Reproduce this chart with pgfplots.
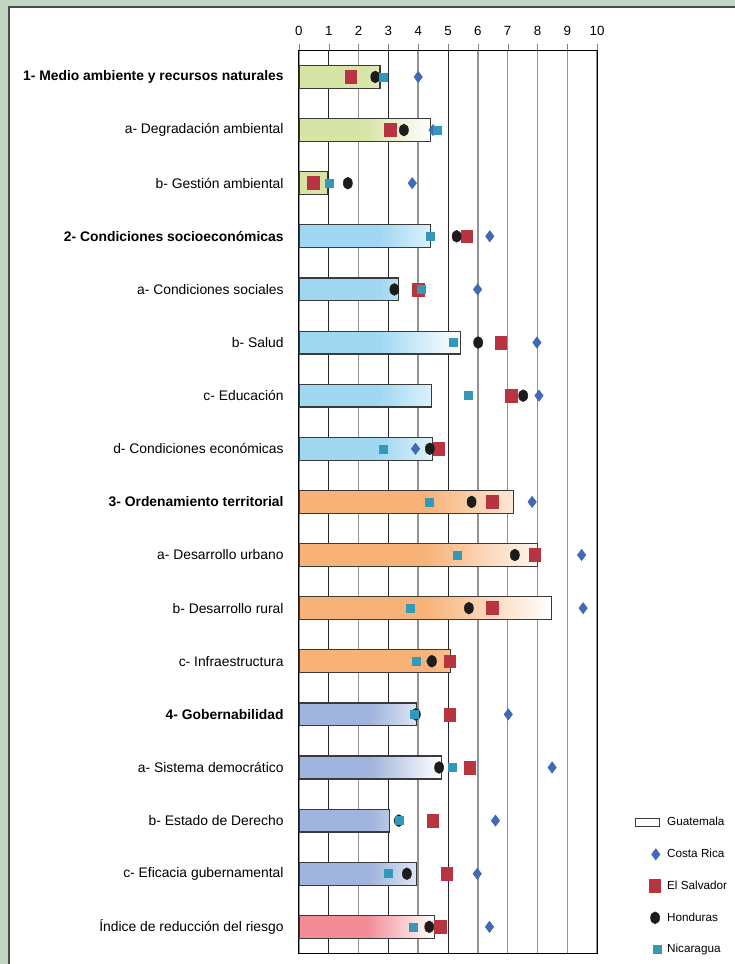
\documentclass[border=0pt]{standalone}
\usepackage{fontspec}
\setmainfont{Liberation Sans}
\usepackage{pgfplots}
\usepackage{pgfplotstable}
\pgfplotsset{compat=1.18}

\definecolor{bgsage}{HTML}{C2D5C0}
\definecolor{frameline}{HTML}{4A4A4A}
\definecolor{bargreen}{HTML}{D6E4A6}
\definecolor{barblue}{HTML}{A0D8F2}
\definecolor{barorange}{HTML}{F7B278}
\definecolor{barlav}{HTML}{A0B4DE}
\definecolor{barpink}{HTML}{F28C96}
\definecolor{bardraw}{HTML}{3A3A3A}
\definecolor{crblue}{HTML}{4169B5}
\definecolor{esred}{HTML}{B83440}
\definecolor{honblack}{HTML}{1C1C1C}
\definecolor{nicteal}{HTML}{3399B8}

% row: 1..17 de arriba abajo
\pgfplotstableread{
row gua  cr   es   hon  nic
1   2.72 4.00 1.75 2.56 2.84
2   4.41 4.50 3.06 3.52 4.63
3   0.96 3.80 0.48 1.64 1.01
4   4.41 6.40 5.64 5.29 4.42
5   3.33 5.99 4.00 3.20 4.09
6   5.41 7.98 6.78 6.01 5.19
7   4.44 8.05 7.12 7.52 5.67
8   4.47 3.91 4.70 4.39 2.82
9   7.19 7.82 6.48 5.79 4.36
10  8.00 9.48 7.92 7.24 5.30
11  8.47 9.53 6.48 5.70 3.75
12  5.07 4.41 5.07 4.46 3.92
13  3.93 7.02 5.07 3.92 3.86
14  4.77 8.49 5.74 4.70 5.15
15  3.05 6.59 4.50 3.35 3.35
16  3.93 5.98 4.97 3.62 3.01
17  4.54 6.39 4.74 4.37 3.85
}\riesgo

\pgfplotsset{
  guabar/.style={xbar, bar shift=0pt, bar width=0.43, draw=bardraw,
    line width=0.9pt, left color=#1, right color=white, middle color=#1},
  % legend images drawn at pgf level so the bar shading is not inherited
  barleg/.style={legend image code/.code={%
    \pgfpathrectangle{\pgfpoint{0pt}{-5pt}}{\pgfpoint{22pt}{10pt}}%
    \pgfusepath{use as bounding box}%
    \pgfsetlinewidth{0.7pt}\pgfsetstrokecolor{bardraw}\pgfsetfillcolor{white}%
    \pgfpathrectangle{\pgfpoint{0pt}{-3pt}}{\pgfpoint{18pt}{6pt}}%
    \pgfusepath{fill,stroke}}},
  markleg/.style={legend image code/.code={%
    \pgfpathrectangle{\pgfpoint{0pt}{-5pt}}{\pgfpoint{22pt}{10pt}}%
    \pgfusepath{use as bounding box}%
    \draw[##1] plot coordinates {(#1,0pt)};}},
}

\begin{document}
\begin{tikzpicture}
\useasboundingbox (-224.25pt,-7.95pt) rectangle (327pt,715.2pt);
\fill[bgsage] (-224.25pt,-9pt) rectangle (329pt,715.2pt);
\fill[white] (-217.5pt,-9pt) rectangle (329pt,710pt);
\draw[frameline, line width=1pt] (-217.5pt,-9pt) -- (-217.5pt,710pt) -- (329pt,710pt);
\begin{axis}[
  at={(0pt,0pt)}, anchor=south west,
  scale only axis, width=223.7pt, height=677.4pt,
  xmin=0, xmax=10, ymin=0.5, ymax=17.5,
  y dir=reverse,
  enlargelimits=false,
  axis line style={black, line width=0.8pt},
  tick align=outside,
  major tick length=4.5pt, minor tick length=3pt,
  xtick={0,2,4,6,7,8,9,10},
  extra x ticks={1,3,5},
  extra x tick style={grid style={black!85, line width=0.7pt}},
  xtick pos=upper, xticklabel pos=upper,
  xmajorgrids,
  grid style={gray!85, line width=1.1pt},
  xticklabel style={font=\fontsize{10}{12}\selectfont, yshift=3pt},
  /pgf/number format/assume math mode=true,
  ytick={1,...,17},
  minor ytick={0.5,1.5,...,17.5},
  ytick pos=left,
  ytick style={draw=none},
  minor y tick style={black, line width=0.6pt},
  yticklabels={
    \textbf{1- Medio ambiente y recursos naturales},
    a- Degradación ambiental,
    b- Gestión ambiental,
    \textbf{2- Condiciones socioeconómicas},
    a- Condiciones sociales,
    b- Salud,
    c- Educación,
    d- Condiciones económicas,
    \textbf{3- Ordenamiento territorial},
    a- Desarrollo urbano,
    b- Desarrollo rural,
    c- Infraestructura,
    \textbf{4- Gobernabilidad},
    a- Sistema democrático,
    b- Estado de Derecho,
    c- Eficacia gubernamental,
    Índice de reducción del riesgo},
  yticklabel style={font=\fontsize{10.4}{12.5}\selectfont, xshift=-3.5pt},
  legend cell align=left,
  legend style={at={(1.1265,0.1525)}, anchor=north west, draw=none, fill=none,
    inner sep=0pt, row sep=13.8pt, font=\fontsize{8.8}{10.5}\selectfont,
    nodes={inner xsep=2pt, inner ysep=0pt}},
]
\addplot[guabar=bargreen, restrict y to domain=0.5:3.5, barleg]
  table[x=gua, y=row] {\riesgo};
\addplot[guabar=barblue, restrict y to domain=3.5:8.5, forget plot]
  table[x=gua, y=row] {\riesgo};
\addplot[guabar=barorange, restrict y to domain=8.5:12.5, forget plot]
  table[x=gua, y=row] {\riesgo};
\addplot[guabar=barlav, restrict y to domain=12.5:16.5, forget plot]
  table[x=gua, y=row] {\riesgo};
\addplot[guabar=barpink, restrict y to domain=16.5:17.5, forget plot]
  table[x=gua, y=row] {\riesgo};

\addplot[only marks, mark=diamond*, mark size=4.2pt, color=crblue, markleg=15.5pt]
  table[x=cr, y=row] {\riesgo};
\addplot[only marks, mark=square*, mark size=4.2pt, color=esred,
  mark options={yscale=1.15}, markleg=14.6pt]
  table[x=es, y=row] {\riesgo};
\addplot[only marks, mark=*, mark size=3.4pt, color=honblack,
  mark options={yscale=1.3}, markleg=15pt]
  table[x=hon, y=row] {\riesgo};
\addplot[only marks, mark=square*, mark size=3pt, color=nicteal, markleg=16.9pt]
  table[x=nic, y=row] {\riesgo};
\legend{Guatemala, Costa Rica, El Salvador, Honduras, Nicaragua}
\end{axis}
\end{tikzpicture}
\end{document}
